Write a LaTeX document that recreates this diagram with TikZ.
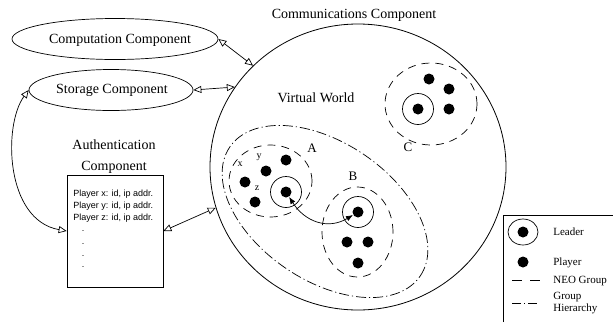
\documentclass[tikz,border=0pt]{standalone}
\usepackage{fontspec}
\setmainfont{Liberation Serif}
\newfontfamily\boxsans{Liberation Sans}
\usetikzlibrary{shapes.geometric,arrows.meta}
\begin{document}
\begin{tikzpicture}[x=1pt,y=-1pt, line width=0.7pt,
  big/.style={font=\fontsize{14}{21}\selectfont, inner sep=0pt},
  leg/.style={font=\fontsize{11}{13}\selectfont, anchor=west, inner sep=0pt, text height=7.3pt, text depth=0pt},
  small/.style={font=\fontsize{10}{12}\selectfont, inner sep=0pt},
  grp/.style={font=\fontsize{13}{15}\selectfont, inner sep=0pt},
  boxtxt/.style={font=\boxsans\fontsize{9}{11}\selectfont, anchor=west, inner sep=0pt, text height=6.5pt, text depth=0pt},
  boxdot/.style={font=\boxsans\fontsize{9}{11}\selectfont, anchor=base, inner sep=0pt},
  oval/.style={ellipse, draw, inner sep=0pt},
  neo/.style={ellipse, draw, inner sep=0pt, dash pattern=on 8pt off 6pt},
  hier/.style={ellipse, draw, inner sep=0pt, dash pattern=on 10pt off 3pt on 1.2pt off 3pt},
  dot/.style={circle, fill, inner sep=0pt, minimum size=11pt},
  lead/.style={circle, draw, inner sep=0pt, minimum size=31pt},
  oarr/.style={{Triangle[open,length=8pt,width=7pt]}-{Triangle[open,length=8pt,width=7pt]}},
  farr/.style={{Latex[length=7pt,width=5.5pt]}-{Latex[length=7pt,width=5.5pt]}},
]
\useasboundingbox (0,0) rectangle (613,322);

% left components
\node[oval, minimum width=206pt, minimum height=41pt] (comp) at (115,39) {};
\node[big] (compT) at (120,40) {Computation Component};
\node[oval, minimum width=164pt, minimum height=41pt] (stor) at (111,90) {};
\node[big] (storT) at (112,90) {Storage Component};
\node[big, align=center] (authT) at (114,156.5) {Authentication\\Component};
\node[draw, minimum width=96pt, minimum height=112pt, inner sep=0pt] (auth) at (115,231) {};
\node[boxtxt] (px) at (73,193) {Player x: id, ip addr.};
\node[boxtxt] (py) at (73,205) {Player y: id, ip addr.};
\node[boxtxt] (pz) at (73,217) {Player z: id, ip addr.};
\node[boxdot] (d1) at (83,231) {.};
\node[boxdot] (d2) at (83,244.5) {.};
\node[boxdot] (d3) at (83,256.5) {.};
\node[boxdot] (d4) at (83,267.5) {.};

% communications component
\node[oval, minimum width=296pt, minimum height=286pt, line width=0.8pt] (world) at (358,167) {};
\node[big] (commT) at (354,15) {Communications Component};
\node[big] (vwT) at (316,98) {Virtual World};

% group hierarchy and NEO groups
\node[hier, minimum width=230pt, minimum height=138pt, rotate=-34] (hierA) at (325,211.5) {};
\node[neo, minimum width=83pt, minimum height=72pt] (gA) at (270.5,181) {};
\node[neo, minimum width=71pt, minimum height=90pt] (gB) at (357.5,232) {};
\node[neo, minimum width=92pt, minimum height=82pt] (gC) at (431,104) {};

% group C
\node[lead] (lC) at (418,109) {};
\node[dot] (dC) at (418,109) {};
\node[dot] (c1) at (429,79) {};
\node[dot] (c2) at (449,89) {};
\node[dot] (c3) at (449,109) {};
\node[grp] (labC) at (408,147) {C};

% group A
\node[lead] (lA) at (286,192) {};
\node[dot] (dA) at (286,192) {};
\node[dot] (ax) at (245,182) {};
\node[dot] (ay) at (266,171) {};
\node[dot] (a3) at (286,160) {};
\node[dot] (az) at (255,202) {};
\node[small] (labx) at (240,164) {x};
\node[small] (laby) at (259,157) {y};
\node[small] (labz) at (257,188) {z};
\node[grp] (labA) at (312,148) {A};

% group B
\node[lead] (lB) at (358,212) {};
\node[dot] (dB) at (358,212) {};
\node[dot] (b1) at (347,242) {};
\node[dot] (b2) at (368,242) {};
\node[dot] (b3) at (358,263) {};
\node[grp] (labB) at (353,176) {B};

% connectors
\draw[oarr] (comp.east) -- (world.136);
\draw[oarr] (stor.east) -- (world.147);
\draw[oarr] (auth.east) -- (world.196);
\draw[oarr] (stor.west) .. controls (3,125) and (5,220) .. (auth.west);
\draw[farr] (dA) .. controls (305,222) and (328,230) .. (dB);

% legend
\draw (503,322) |- (613,215);
\node[ellipse, draw, minimum width=30pt, minimum height=26pt, inner sep=0pt] (legL) at (523,232) {};
\node[dot] (legLd) at (523,232) {};
\node[leg] (legLT) at (553,232) {Leader};
\node[dot] (legP) at (523,262) {};
\node[leg] (legPT) at (553,262) {Player};
\draw[dash pattern=on 10pt off 8pt] (512,280) -- (540,280);
\node[leg] (legNT) at (553,280) {NEO Group};
\draw[dash pattern=on 9pt off 3pt on 1.2pt off 3pt] (512,303) -- (540,303);
\node[leg] (legH1) at (553,296) {Group};
\node[leg] (legH2) at (553,308) {Hierarchy};
\end{tikzpicture}
\end{document}
